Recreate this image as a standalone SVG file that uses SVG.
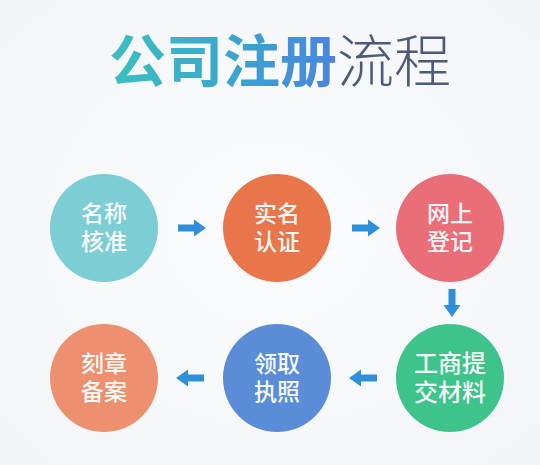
<svg xmlns="http://www.w3.org/2000/svg" width="540" height="465" viewBox="0 0 540 465">
<defs>
<linearGradient id="tg" x1="108" y1="0" x2="335" y2="0" gradientUnits="userSpaceOnUse">
<stop offset="0" stop-color="#3cc0bf"/>
<stop offset="0.5" stop-color="#3aa8cc"/>
<stop offset="1" stop-color="#4a84e0"/>
</linearGradient>
<radialGradient id="bg" cx="0.5" cy="0.5" r="0.7">
<stop offset="0" stop-color="#fbfcfd"/>
<stop offset="1" stop-color="#f2f4f7"/>
</radialGradient>
<path id="arr" d="M-14,-3.5 L2,-3.5 L2,-8.5 L14,0 L2,8.5 L2,3.5 L-14,3.5 Z"/>
</defs>
<style>
.lbl{font-family:"Noto Sans CJK SC","Noto Sans",sans-serif;font-size:23px;font-weight:500;fill:#ffffff;text-anchor:middle;opacity:0.95}
.big{font-size:24px}
.arrow{fill:#2f8fd9}
</style>
<rect width="540" height="465" fill="url(#bg)"/>
<g id="title">
<text x="280" y="82" text-anchor="middle" style="font-family:'Noto Sans CJK SC',sans-serif;font-size:57px"><tspan font-weight="700" fill="url(#tg)">公司注册</tspan><tspan font-weight="300" fill="#4d5b78">流程</tspan></text>
</g>
<g id="connectors">
<use href="#arr" class="arrow" transform="translate(192,228)"/>
<use href="#arr" class="arrow" transform="translate(366,228)"/>
<use href="#arr" class="arrow" transform="translate(452,303) rotate(90)"/>
<use href="#arr" class="arrow" transform="translate(363,378) rotate(180)"/>
<use href="#arr" class="arrow" transform="translate(190,378) rotate(180)"/>
</g>
<g id="n1"><circle cx="104" cy="228" r="54" fill="#7dcdd5"/><text class="lbl" x="104" y="222">名称<tspan x="104" dy="28">核准</tspan></text></g>
<g id="n2"><circle cx="277" cy="228" r="54" fill="#e8764a"/><text class="lbl" x="277" y="222">实名<tspan x="277" dy="28">认证</tspan></text></g>
<g id="n3"><circle cx="450" cy="228" r="54" fill="#ea6e78"/><text class="lbl" x="450" y="222">网上<tspan x="450" dy="28">登记</tspan></text></g>
<g id="n4"><circle cx="450" cy="378" r="54" fill="#3ec38b"/><text class="lbl big" x="450" y="372">工商提<tspan x="450" dy="29">交材料</tspan></text></g>
<g id="n5"><circle cx="277" cy="378" r="54" fill="#5b8cd8"/><text class="lbl" x="277" y="372">领取<tspan x="277" dy="28">执照</tspan></text></g>
<g id="n6"><circle cx="104" cy="378" r="54" fill="#ec906f"/><text class="lbl" x="104" y="372">刻章<tspan x="104" dy="28">备案</tspan></text></g>
</svg>
